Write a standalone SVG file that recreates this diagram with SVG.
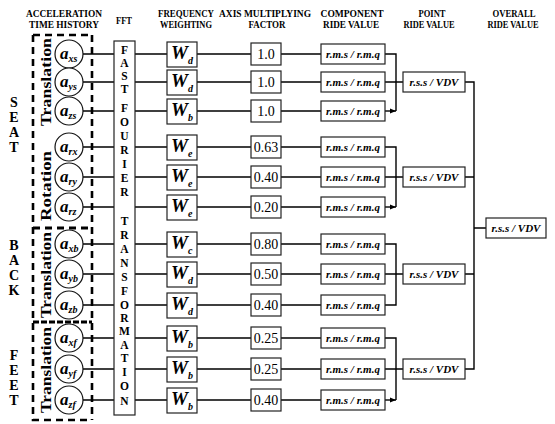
<svg xmlns="http://www.w3.org/2000/svg" width="555" height="424" viewBox="0 0 555 424">
<defs>
<style>
.hd{font-family:"Liberation Serif",serif;font-weight:bold;font-size:10.5px;text-anchor:middle;fill:#000}
.big{font-family:"Liberation Serif",serif;font-weight:bold;font-size:14px;text-anchor:middle;fill:#000}
.rot{font-family:"Liberation Serif",serif;font-weight:bold;font-size:15px;text-anchor:middle;fill:#000}
.fft{font-family:"Liberation Serif",serif;font-weight:bold;font-size:11.5px;text-anchor:middle;fill:#000}
.ai{font-family:"Liberation Serif",serif;font-weight:bold;font-style:italic;font-size:17px;fill:#000}
.sub{font-size:10px}
.w{font-family:"Liberation Serif",serif;font-weight:bold;font-style:italic;font-size:19px;fill:#000}
.ws{font-size:10px}
.f{font-family:"Liberation Serif",serif;font-size:14px;text-anchor:middle;fill:#000}
.c{font-family:"Liberation Serif",serif;font-weight:bold;font-style:italic;font-size:11px;text-anchor:middle;fill:#000}
.box{fill:#fff;stroke:#222;stroke-width:1.2}
.circ{fill:#fff;stroke:#111;stroke-width:1.2}
.ln{stroke:#000;stroke-width:1.4;fill:none}
.dash{stroke:#000;stroke-width:2.6;stroke-dasharray:7 5;fill:none}
</style>
<marker id="arr" viewBox="0 0 6 6" refX="6" refY="3" markerWidth="6" markerHeight="6" orient="auto" markerUnits="userSpaceOnUse">
<path d="M0,0.5 L6,3 L0,5.5 z" fill="#000"/>
</marker>
</defs>
<rect width="555" height="424" fill="#fff"/>

<g id="headers">
<text class="hd" x="64" y="17" textLength="76" lengthAdjust="spacingAndGlyphs">ACCELERATION</text>
<text class="hd" x="64" y="28" textLength="70" lengthAdjust="spacingAndGlyphs">TIME HISTORY</text>
<text class="hd" x="124" y="24" textLength="16" lengthAdjust="spacingAndGlyphs">FFT</text>
<text class="hd" x="186" y="17" textLength="56" lengthAdjust="spacingAndGlyphs">FREQUENCY</text>
<text class="hd" x="186" y="28" textLength="52" lengthAdjust="spacingAndGlyphs">WEIGHTING</text>
<text class="hd" x="265" y="17" textLength="92" lengthAdjust="spacingAndGlyphs">AXIS MULTIPLYING</text>
<text class="hd" x="267" y="28" textLength="37" lengthAdjust="spacingAndGlyphs">FACTOR</text>
<text class="hd" x="352" y="17" textLength="63" lengthAdjust="spacingAndGlyphs">COMPONENT</text>
<text class="hd" x="351" y="28" textLength="56" lengthAdjust="spacingAndGlyphs">RIDE VALUE</text>
<text class="hd" x="432" y="17" textLength="27" lengthAdjust="spacingAndGlyphs">POINT</text>
<text class="hd" x="429" y="28" textLength="51" lengthAdjust="spacingAndGlyphs">RIDE VALUE</text>
<text class="hd" x="514" y="17" textLength="43" lengthAdjust="spacingAndGlyphs">OVERALL</text>
<text class="hd" x="513" y="28" textLength="51" lengthAdjust="spacingAndGlyphs">RIDE VALUE</text>
</g>

<g id="body-labels">
<text class="big" x="14" y="107">S</text>
<text class="big" x="14" y="122">E</text>
<text class="big" x="14" y="137">A</text>
<text class="big" x="14" y="152">T</text>
<text class="big" x="14" y="250">B</text>
<text class="big" x="14" y="265">A</text>
<text class="big" x="14" y="280">C</text>
<text class="big" x="14" y="295">K</text>
<text class="big" x="14" y="360">F</text>
<text class="big" x="14" y="375">E</text>
<text class="big" x="14" y="390">E</text>
<text class="big" x="14" y="405">T</text>
</g>

<g id="groups">
<path class="dash" d="M33,35 H92 M33,35 V420 H92 M92,35 V420"/>
<path class="dash" d="M33,228 H92" style="stroke-width:3"/>
<path class="dash" d="M33,322 H92" style="stroke-width:3;stroke-dasharray:6 2"/>
<text class="rot" transform="translate(51,82) rotate(-90)" textLength="88" lengthAdjust="spacingAndGlyphs">Translation</text>
<text class="rot" transform="translate(51,186) rotate(-90)" textLength="70" lengthAdjust="spacingAndGlyphs">Rotation</text>
<text class="rot" transform="translate(51,275) rotate(-90)" textLength="86" lengthAdjust="spacingAndGlyphs">Translation</text>
<text class="rot" transform="translate(51,370) rotate(-90)" textLength="86" lengthAdjust="spacingAndGlyphs">Translation</text>
</g>

<g id="connectors">
<path class="ln" d="M83,54 H114 M83,82 H114 M83,111 H114 M83,147 H114 M83,177 H114 M83,207 H114 M83,244 H114 M83,274 H114 M83,305 H114 M83,338 H114 M83,369 H114 M83,400 H114"/>
<path class="ln" d="M135,54 H167 M135,82 H167 M135,111 H167 M135,147 H167 M135,177 H167 M135,207 H167 M135,244 H167 M135,274 H167 M135,305 H167 M135,338 H167 M135,369 H167 M135,400 H167"/>
<path class="ln" d="M197,54 H251 M197,82 H251 M197,111 H251 M197,147 H251 M197,177 H251 M197,207 H251 M197,244 H251 M197,274 H251 M197,305 H251 M197,338 H251 M197,369 H251 M197,400 H251"/>
<path class="ln" d="M281,54 H321 M281,82 H321 M281,111 H321 M281,147 H321 M281,177 H321 M281,207 H321 M281,244 H321 M281,274 H321 M281,305 H321 M281,338 H321 M281,369 H321 M281,400 H321"/>
<path class="ln" d="M385,54 H396 V111 M385,82 H403 M385,147 H396 V207 M385,177 H403 M385,244 H396 V305 H385 M385,274 H403 M385,338 H396 V400 M385,369 H403"/>
<path class="ln" d="M385,111 H396" marker-end="url(#arr)"/>
<path class="ln" d="M385,207 H396" marker-end="url(#arr)"/>
<path class="ln" d="M385,400 H396" marker-end="url(#arr)"/>
<path class="ln" d="M465,82 H474 V369 H465 M465,177 H474 M465,274 H474 M474,228 H486"/>
</g>

<g id="sensors">
<g id="a-xs"><circle class="circ" cx="69" cy="54" r="14"/><text class="ai" x="60" y="59">a<tspan class="sub" dy="3">xs</tspan></text></g>
<g id="a-ys"><circle class="circ" cx="69" cy="82" r="14"/><text class="ai" x="60" y="87">a<tspan class="sub" dy="3">ys</tspan></text></g>
<g id="a-zs"><circle class="circ" cx="69" cy="111" r="14"/><text class="ai" x="60" y="116">a<tspan class="sub" dy="3">zs</tspan></text></g>
<g id="a-rx"><circle class="circ" cx="69" cy="147" r="14"/><text class="ai" x="60" y="152">a<tspan class="sub" dy="3">rx</tspan></text></g>
<g id="a-ry"><circle class="circ" cx="69" cy="177" r="14"/><text class="ai" x="60" y="182">a<tspan class="sub" dy="3">ry</tspan></text></g>
<g id="a-rz"><circle class="circ" cx="69" cy="207" r="14"/><text class="ai" x="60" y="212">a<tspan class="sub" dy="3">rz</tspan></text></g>
<g id="a-xb"><circle class="circ" cx="69" cy="244" r="14"/><text class="ai" x="60" y="249">a<tspan class="sub" dy="3">xb</tspan></text></g>
<g id="a-yb"><circle class="circ" cx="69" cy="274" r="14"/><text class="ai" x="60" y="279">a<tspan class="sub" dy="3">yb</tspan></text></g>
<g id="a-zb"><circle class="circ" cx="69" cy="305" r="14"/><text class="ai" x="60" y="310">a<tspan class="sub" dy="3">zb</tspan></text></g>
<g id="a-xf"><circle class="circ" cx="69" cy="338" r="14"/><text class="ai" x="60" y="343">a<tspan class="sub" dy="3">xf</tspan></text></g>
<g id="a-yf"><circle class="circ" cx="69" cy="369" r="14"/><text class="ai" x="60" y="374">a<tspan class="sub" dy="3">yf</tspan></text></g>
<g id="a-zf"><circle class="circ" cx="69" cy="400" r="14"/><text class="ai" x="60" y="405">a<tspan class="sub" dy="3">zf</tspan></text></g>
</g>

<g id="fft">
<rect class="box" x="114" y="41" width="21" height="374"/>
<text class="fft" x="124.5" y="54">F</text>
<text class="fft" x="124.5" y="67">A</text>
<text class="fft" x="124.5" y="80">S</text>
<text class="fft" x="124.5" y="93">T</text>
<text class="fft" x="124.5" y="112">F</text>
<text class="fft" x="124.5" y="126">O</text>
<text class="fft" x="124.5" y="140">U</text>
<text class="fft" x="124.5" y="154">R</text>
<text class="fft" x="124.5" y="168">I</text>
<text class="fft" x="124.5" y="182">E</text>
<text class="fft" x="124.5" y="196">R</text>
<text class="fft" x="124.5" y="225">T</text>
<text class="fft" x="124.5" y="239">R</text>
<text class="fft" x="124.5" y="253">A</text>
<text class="fft" x="124.5" y="267">N</text>
<text class="fft" x="124.5" y="281">S</text>
<text class="fft" x="124.5" y="295">F</text>
<text class="fft" x="124.5" y="309">O</text>
<text class="fft" x="124.5" y="322">R</text>
<text class="fft" x="124.5" y="335">M</text>
<text class="fft" x="124.5" y="349">A</text>
<text class="fft" x="124.5" y="362">T</text>
<text class="fft" x="124.5" y="376">I</text>
<text class="fft" x="124.5" y="390">O</text>
<text class="fft" x="124.5" y="405">N</text>
</g>

<g id="weighting">
<g id="w1"><rect class="box" x="167" y="42" width="30" height="25"/><text class="w" x="171" y="59">W<tspan class="ws" dy="5">d</tspan></text></g>
<g id="w2"><rect class="box" x="167" y="70" width="30" height="25"/><text class="w" x="171" y="87">W<tspan class="ws" dy="5">d</tspan></text></g>
<g id="w3"><rect class="box" x="167" y="99" width="30" height="25"/><text class="w" x="171" y="116">W<tspan class="ws" dy="5">b</tspan></text></g>
<g id="w4"><rect class="box" x="167" y="135" width="30" height="25"/><text class="w" x="171" y="152">W<tspan class="ws" dy="5">e</tspan></text></g>
<g id="w5"><rect class="box" x="167" y="165" width="30" height="25"/><text class="w" x="171" y="182">W<tspan class="ws" dy="5">e</tspan></text></g>
<g id="w6"><rect class="box" x="167" y="195" width="30" height="25"/><text class="w" x="171" y="212">W<tspan class="ws" dy="5">e</tspan></text></g>
<g id="w7"><rect class="box" x="167" y="232" width="30" height="25"/><text class="w" x="171" y="249">W<tspan class="ws" dy="5">c</tspan></text></g>
<g id="w8"><rect class="box" x="167" y="262" width="30" height="25"/><text class="w" x="171" y="279">W<tspan class="ws" dy="5">d</tspan></text></g>
<g id="w9"><rect class="box" x="167" y="293" width="30" height="25"/><text class="w" x="171" y="310">W<tspan class="ws" dy="5">d</tspan></text></g>
<g id="w10"><rect class="box" x="167" y="326" width="30" height="25"/><text class="w" x="171" y="343">W<tspan class="ws" dy="5">b</tspan></text></g>
<g id="w11"><rect class="box" x="167" y="357" width="30" height="25"/><text class="w" x="171" y="374">W<tspan class="ws" dy="5">b</tspan></text></g>
<g id="w12"><rect class="box" x="167" y="388" width="30" height="25"/><text class="w" x="171" y="405">W<tspan class="ws" dy="5">b</tspan></text></g>
</g>

<g id="factors">
<g id="f1"><rect class="box" x="251" y="43" width="30" height="22"/><text class="f" x="266" y="59">1.0</text></g>
<g id="f2"><rect class="box" x="251" y="71" width="30" height="22"/><text class="f" x="266" y="87">1.0</text></g>
<g id="f3"><rect class="box" x="251" y="100" width="30" height="22"/><text class="f" x="266" y="116">1.0</text></g>
<g id="f4"><rect class="box" x="251" y="136" width="30" height="22"/><text class="f" x="266" y="152">0.63</text></g>
<g id="f5"><rect class="box" x="251" y="166" width="30" height="22"/><text class="f" x="266" y="182">0.40</text></g>
<g id="f6"><rect class="box" x="251" y="196" width="30" height="22"/><text class="f" x="266" y="212">0.20</text></g>
<g id="f7"><rect class="box" x="251" y="233" width="30" height="22"/><text class="f" x="266" y="249">0.80</text></g>
<g id="f8"><rect class="box" x="251" y="263" width="30" height="22"/><text class="f" x="266" y="279">0.50</text></g>
<g id="f9"><rect class="box" x="251" y="294" width="30" height="22"/><text class="f" x="266" y="310">0.40</text></g>
<g id="f10"><rect class="box" x="251" y="327" width="30" height="22"/><text class="f" x="266" y="343">0.25</text></g>
<g id="f11"><rect class="box" x="251" y="358" width="30" height="22"/><text class="f" x="266" y="374">0.25</text></g>
<g id="f12"><rect class="box" x="251" y="389" width="30" height="22"/><text class="f" x="266" y="405">0.40</text></g>
</g>

<g id="components">
<g id="c1"><rect class="box" x="321" y="44" width="64" height="20"/><text class="c" x="353" y="58">r.m.s / r.m.q</text></g>
<g id="c2"><rect class="box" x="321" y="72" width="64" height="20"/><text class="c" x="353" y="86">r.m.s / r.m.q</text></g>
<g id="c3"><rect class="box" x="321" y="101" width="64" height="20"/><text class="c" x="353" y="115">r.m.s / r.m.q</text></g>
<g id="c4"><rect class="box" x="321" y="137" width="64" height="20"/><text class="c" x="353" y="151">r.m.s / r.m.q</text></g>
<g id="c5"><rect class="box" x="321" y="167" width="64" height="20"/><text class="c" x="353" y="181">r.m.s / r.m.q</text></g>
<g id="c6"><rect class="box" x="321" y="197" width="64" height="20"/><text class="c" x="353" y="211">r.m.s / r.m.q</text></g>
<g id="c7"><rect class="box" x="321" y="234" width="64" height="20"/><text class="c" x="353" y="248">r.m.s / r.m.q</text></g>
<g id="c8"><rect class="box" x="321" y="264" width="64" height="20"/><text class="c" x="353" y="278">r.m.s / r.m.q</text></g>
<g id="c9"><rect class="box" x="321" y="295" width="64" height="20"/><text class="c" x="353" y="309">r.m.s / r.m.q</text></g>
<g id="c10"><rect class="box" x="321" y="328" width="64" height="20"/><text class="c" x="353" y="342">r.m.s / r.m.q</text></g>
<g id="c11"><rect class="box" x="321" y="359" width="64" height="20"/><text class="c" x="353" y="373">r.m.s / r.m.q</text></g>
<g id="c12"><rect class="box" x="321" y="390" width="64" height="20"/><text class="c" x="353" y="404">r.m.s / r.m.q</text></g>
</g>

<g id="points">
<g id="p1"><rect class="box" x="403" y="72" width="62" height="20"/><text class="c" x="434" y="86">r.s.s / VDV</text></g>
<g id="p2"><rect class="box" x="403" y="167" width="62" height="20"/><text class="c" x="434" y="181">r.s.s / VDV</text></g>
<g id="p3"><rect class="box" x="403" y="264" width="62" height="20"/><text class="c" x="434" y="278">r.s.s / VDV</text></g>
<g id="p4"><rect class="box" x="403" y="359" width="62" height="20"/><text class="c" x="434" y="373">r.s.s / VDV</text></g>
</g>

<g id="overall">
<rect class="box" x="486" y="218" width="60" height="20"/><text class="c" x="516" y="232">r.s.s / VDV</text>
</g>
</svg>
